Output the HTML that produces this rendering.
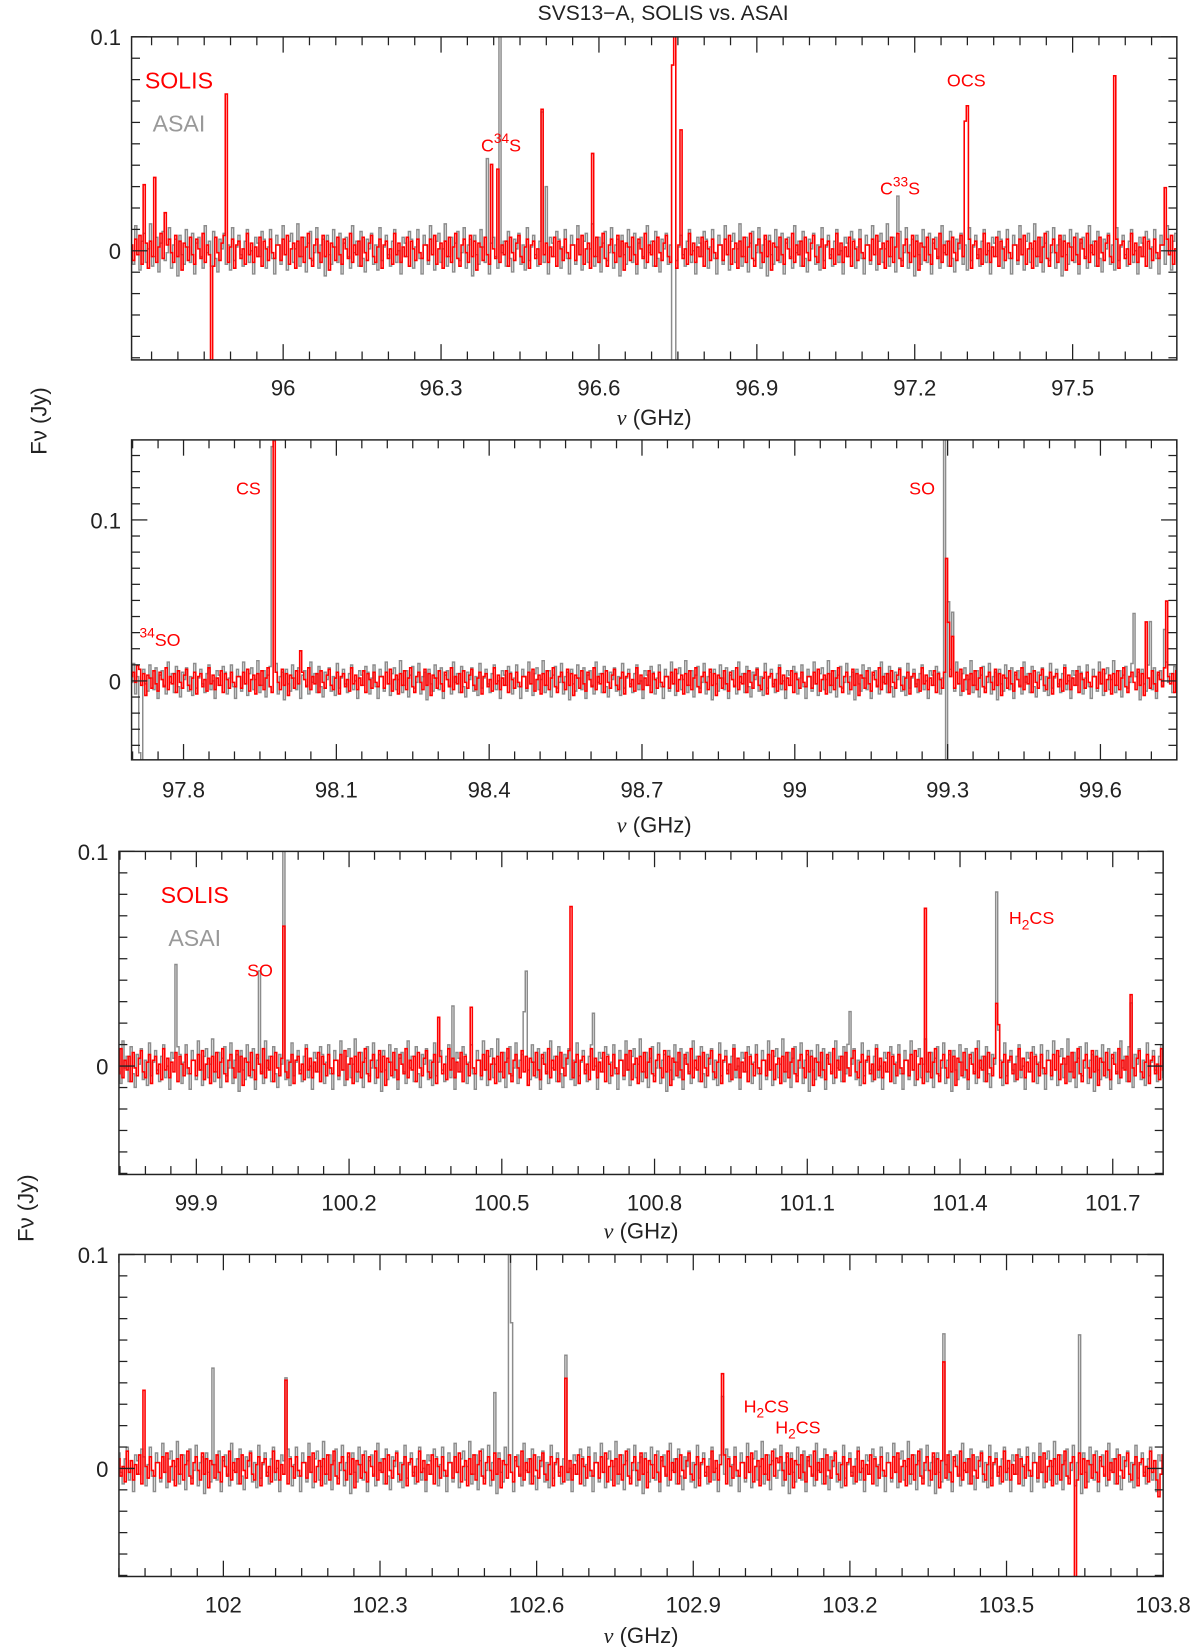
<!DOCTYPE html>
<html><head><meta charset="utf-8">
<style>
body{margin:0;background:#fff;}
svg{display:block;font-family:"Liberation Sans",sans-serif;}
</style></head>
<body>
<svg id="chart" width="1200" height="1647" viewBox="0 0 1140 1565" preserveAspectRatio="none" xmlns="http://www.w3.org/2000/svg">
<text x="630" y="19" font-size="20" text-anchor="middle" fill="#222">SVS13−A, SOLIS vs. ASAI</text>
<text transform="translate(44,400) rotate(-90)" font-size="21" text-anchor="middle" fill="#222">Fν (Jy)</text>
<text transform="translate(32,1148) rotate(-90)" font-size="21" text-anchor="middle" fill="#222">Fν (Jy)</text>
<g id="panels"></g>
</svg>
<script>
// ---- data ----
const solisNoise=[3,-5,6,-2,8,-7,1,4,-9,5,-3,7,-6,2,9,-4,-8,3,6,-1,-6,8,-3,5,-10,4,2,-5,7,-2,-7,6,1,-4,9,-6,3,-2,5,-8,7,-1,-5,4,8,-3,-6,2,6,-9,3,5,-4,1,-7,9,-2,4,-6,2,-3,7,-8,5,1,-5,6,-1,-4,3];
const asaiNoise=[6,-9,2,11,-4,-12,8,3,-7,13,-2,-10,5,9,-6,1,14,-8,-3,7,-11,4,10,-5,-1,12,-9,3,6,-13,8,-2,-7,11,2,-6,9,-12,4,7,-3,-9,13,-1,5,-8,10,-4,-11,6,1,9,-7,3,-10,12,-5,2,8,-2,-8,5,11,-6,0,-12,7,4,-3,10];
// peaks: [freq GHz, Jy]
const p1Solis=[[95.738,0.03],[95.758,0.028],[95.776,0.025],[95.891,0.076],[95.865,-0.06],[96.398,0.035],[96.406,0.03],[96.492,0.058],[96.588,0.041],[96.742,0.085],[96.746,0.085],[96.756,0.052],[97.298,0.066],[97.582,0.08],[97.676,0.034]];
const p1Asai=[[96.412,0.1],[96.39,0.035],[96.492,0.055],[96.742,-0.06],[96.746,-0.06],[97.168,0.022],[96.5,0.03]];
const p2Solis=[[97.977,0.135],[97.979,0.06],[98.029,0.025],[99.297,0.077],[99.303,0.04],[99.31,0.025],[99.69,0.033],[99.729,0.055],[97.71,0.015]];
const p2Asai=[[97.975,0.15],[97.977,0.15],[99.295,0.15],[99.298,-0.05],[99.303,0.06],[99.31,0.04],[97.716,-0.05],[99.667,0.05],[99.696,0.035],[99.727,0.04]];
const p3Solis=[[100.073,0.058],[100.637,0.077],[101.331,0.069],[101.474,0.022],[101.736,0.027],[100.378,0.02],[100.44,0.022]];
const p3Asai=[[99.862,0.05],[100.025,0.038],[100.073,0.1],[100.546,0.037],[100.68,0.03],[101.474,0.073],[101.478,-0.05],[101.736,0.033],[100.403,0.028],[101.182,0.02]];
const p4Solis=[[101.85,0.032],[102.121,0.035],[102.657,0.034],[102.957,0.047],[103.381,0.048],[103.633,-0.05],[103.79,-0.015],[103.06,0.012]];
const p4Asai=[[101.979,0.037],[102.121,0.045],[102.546,0.1],[102.55,0.06],[102.657,0.043],[103.639,0.057],[103.381,0.053],[102.957,0.03],[102.52,0.03]];
const p1Ticks=["96","96.3","96.6","96.9","97.2","97.5"];
const p2Ticks=["97.8","98.1","98.4","98.7","99","99.3","99.6"];
const p3Ticks=["99.9","100.2","100.5","100.8","101.1","101.4","101.7"];
const p4Ticks=["102","102.3","102.6","102.9","103.2","103.5","103.8"];
const p1YTicks=["0","0.1"],p2YTicks=["0","0.1"],p3YTicks=["0","0.1"],p4YTicks=["0","0.1"];

const NS="http://www.w3.org/2000/svg";
const root=document.getElementById('panels');
function mk(tag,attrs,parent){const e=document.createElementNS(NS,tag);for(const k in attrs)e.setAttribute(k,attrs[k]);(parent||root).appendChild(e);return e;}

const panels=[
 {name:'panel-1',L:125,R:1118,T:35,B:342,f0:95.712,f1:97.698,y0:-0.051,y1:0.1,solis:p1Solis,asai:p1Asai,ticks:p1Ticks,yt:p1YTicks,tickY:376,labY:404,nOff:0},
 {name:'panel-2',L:125,R:1118,T:418,B:722,f0:97.698,f1:99.75,y0:-0.049,y1:0.1497,solis:p2Solis,asai:p2Asai,ticks:p2Ticks,yt:p2YTicks,tickY:758,labY:791,nOff:17},
 {name:'panel-3',L:113,R:1105,T:809,B:1116,f0:99.748,f1:101.799,y0:-0.0505,y1:0.1,solis:p3Solis,asai:p3Asai,ticks:p3Ticks,yt:p3YTicks,tickY:1150,labY:1177,nOff:33},
 {name:'panel-4',L:113,R:1105,T:1192,B:1498,f0:101.8,f1:103.8,y0:-0.0505,y1:0.1,solis:p4Solis,asai:p4Asai,ticks:p4Ticks,yt:p4YTicks,tickY:1532,labY:1561,nOff:51}
];

panels.forEach(p=>{
 const g=mk('g',{});
 
 
 const xs=f=>p.L+(f-p.f0)/(p.f1-p.f0)*(p.R-p.L);
 const ys=v=>p.B-(v-p.y0)/(p.y1-p.y0)*(p.B-p.T);
 const cid='clip-'+p.name;
 const cp=mk('clipPath',{id:cid},g);mk('rect',{x:p.L,y:p.T,width:p.R-p.L,height:p.B-p.T},cp);
 const step=0.004;
 function series(peaks,noise,scale,off,color,w,name){
   let d='';const n=Math.ceil((p.f1-p.f0)/step);
   for(let i=0;i<=n;i++){
     const f=p.f0+i*step;
     let v=noise[(i+off)%noise.length]*scale;
     peaks.forEach(pk=>{if(Math.abs(pk[0]-f)<step/2)v+=pk[1];});
     const x1=xs(f-step/2),x2=xs(f+step/2),y=ys(v);
     d+=(i===0?'M':'L')+x1.toFixed(1)+','+y.toFixed(1)+'L'+x2.toFixed(1)+','+y.toFixed(1);
   }
   const path=mk('path',{d:d,fill:'none',stroke:color,'stroke-width':w,'clip-path':'url(#'+cid+')'},g);
   
   
 }
 series(p.asai,asaiNoise,0.0009,p.nOff+7,'#8c8c8c',1.4,'asai-spectrum');
 series(p.solis,solisNoise,0.0009,p.nOff,'#ff0000',1.5,'solis-spectrum');
 const fr=mk('rect',{x:p.L,y:p.T,width:p.R-p.L,height:p.B-p.T,fill:'none',stroke:'#222','stroke-width':1.4},g);
 
 
 const firstMajor=parseFloat(p.ticks[0]);
 for(let k=-10;k<200;k++){
   const f=firstMajor+k*0.05; if(f<p.f0-1e-6||f>p.f1+1e-6)continue;
   const x=xs(f),len=(((k%6)+6)%6===0)?15:8;
   mk('line',{x1:x,y1:p.B,x2:x,y2:p.B-len,stroke:'#222','stroke-width':1.2},g);
   mk('line',{x1:x,y1:p.T,x2:x,y2:p.T+len,stroke:'#222','stroke-width':1.2},g);
 }
 p.ticks.forEach((t,i)=>{
   let x=xs(parseFloat(t));
   const tx=mk('text',{x:x,y:p.tickY,'font-size':21,'text-anchor':'middle',fill:'#222'},g);
   tx.textContent=t;
   
   
 });
 const xl=mk('text',{x:(p.L+p.R)/2,y:p.labY,'font-size':21,'text-anchor':'middle',fill:'#222'},g);
 xl.innerHTML='<tspan font-style="italic" font-family="Liberation Serif">ν</tspan> (GHz)';
 
 
 for(let k=-10;k<=20;k++){
   const v=k*0.01; if(v<p.y0||v>p.y1)continue;
   const y=ys(v),len=(k%10===0)?15:8;
   mk('line',{x1:p.L,y1:y,x2:p.L+len,y2:y,stroke:'#222','stroke-width':1.2},g);
   mk('line',{x1:p.R,y1:y,x2:p.R-len,y2:y,stroke:'#222','stroke-width':1.2},g);
 }
 p.yt.forEach(t=>{
   const ty=mk('text',{x:p.L-10,y:ys(parseFloat(t))+8,'font-size':21,'text-anchor':'end',fill:'#222'},g);
   ty.textContent=t;
   
   
 });
});

const ann=[
 ['legend-solis',170,84,'SOLIS','#ff0000',22],['legend-asai',170,125,'ASAI','#999',22],
 ['label-c34s',476,144,'C<tspan dy="-8" font-size="13">34</tspan><tspan dy="8">S</tspan>','#ff0000',17],
 ['label-c33s',855,185,'C<tspan dy="-8" font-size="13">33</tspan><tspan dy="8">S</tspan>','#ff0000',17],
 ['label-ocs',918,82,'OCS','#ff0000',17],
 ['label-cs',236,470,'CS','#ff0000',17],['label-so',876,470,'SO','#ff0000',17],
 ['label-34so',152,614,'<tspan dy="-8" font-size="13">34</tspan><tspan dy="8">SO</tspan>','#ff0000',17],
 ['legend-solis-2',185,858,'SOLIS','#ff0000',22],['legend-asai-2',185,899,'ASAI','#999',22],
 ['label-so-2',247,928,'SO','#ff0000',17],
 ['label-h2cs',980,878,'H<tspan dy="5" font-size="13">2</tspan><tspan dy="-5">CS</tspan>','#ff0000',17],
 ['label-h2cs-2',728,1342,'H<tspan dy="5" font-size="13">2</tspan><tspan dy="-5">CS</tspan>','#ff0000',17],
 ['label-h2cs-3',758,1362,'H<tspan dy="5" font-size="13">2</tspan><tspan dy="-5">CS</tspan>','#ff0000',17]
];
ann.forEach(a=>{
 const t=mk('text',{x:a[1],y:a[2],'text-anchor':'middle',fill:a[4],'font-size':a[5]});
 t.innerHTML=a[3];
 
 
});
</script>
</body></html>
